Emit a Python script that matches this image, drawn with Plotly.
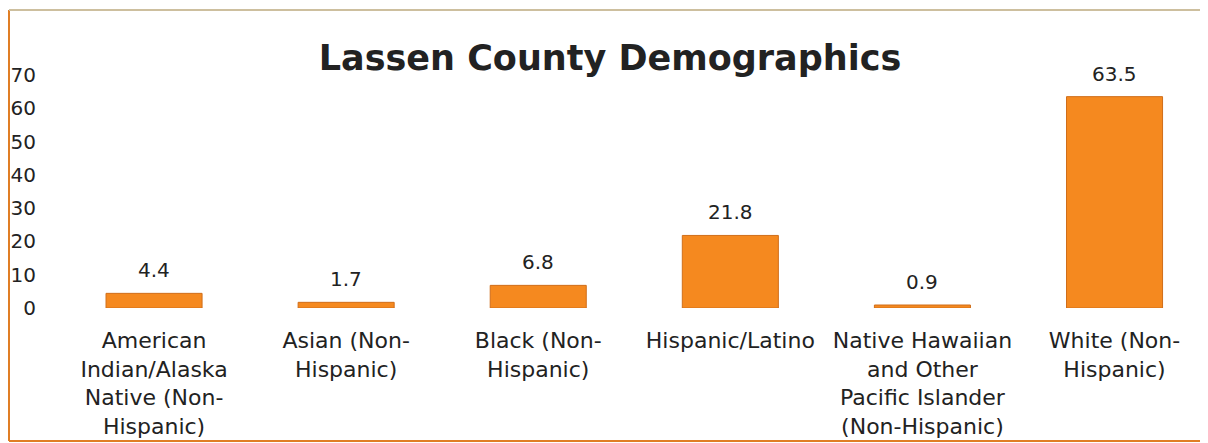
import plotly.graph_objects as go

categories = [
    "American Indian/Alaska Native (Non-Hispanic)",
    "Asian (Non-Hispanic)",
    "Black (Non-Hispanic)",
    "Hispanic/Latino",
    "Native Hawaiian and Other Pacific Islander (Non-Hispanic)",
    "White (Non-Hispanic)",
]
values = [4.4, 1.7, 6.8, 21.8, 0.9, 63.5]
tick_labels = [
    "American<br>Indian/Alaska<br>Native (Non-<br>Hispanic)",
    "Asian (Non-<br>Hispanic)",
    "Black (Non-<br>Hispanic)",
    "Hispanic/Latino",
    "Native Hawaiian<br>and Other<br>Pacific Islander<br>(Non-Hispanic)",
    "White (Non-<br>Hispanic)",
]
y_ticks = [0, 10, 20, 30, 40, 50, 60, 70]
title_text = "Lassen County Demographics"

W, H = 1208, 443
FONT = "DejaVu Sans"
# plot area in figure pixels
L, R, T, B = 50, 11, 67, 143
PW, PH = W - L - R, H - T - B


def px(fx):
    return (fx - L) / PW


def py(fy):
    return (H - B - fy) / PH


fig = go.Figure()
fig.add_trace(go.Bar(
    x=categories,
    y=values,
    width=0.5,
    marker=dict(color="#F5891F", line=dict(color="#D06E1A", width=1)),
    hoverinfo="x+y",
))

for c, v in zip(categories, values):
    fig.add_annotation(
        x=c, y=v, text=f"{v}", showarrow=False,
        yanchor="bottom", yshift=9,
        font=dict(family=FONT, size=20, color="#222222"),
    )

frame = [
    (1, 2, 1, 433, "#E07E25", 2),        # left
    (1, 2, 1195, 2, "#CDBF9E", 2),       # top
    (1195, 2, 1195, 433, "#F3DCC0", 2),  # right
    (1, 433, 1195, 433, "#E07E25", 2),   # bottom
]
shapes = [
    dict(type="line", xref="paper", yref="paper",
         x0=px(a), y0=py(b), x1=px(c), y1=py(d),
         line=dict(color=col, width=w), layer="above")
    for a, b, c, d, col, w in frame
]

fig.update_layout(
    width=W, height=H,
    paper_bgcolor="white", plot_bgcolor="white",
    margin=dict(l=L, r=R, t=T, b=B, autoexpand=False),
    showlegend=False,
    title=dict(
        text=f"<b>{title_text}</b>",
        x=602 / W, xanchor="center",
        y=1 - 50 / H, yanchor="middle",
        font=dict(family=FONT, size=35, color="#222222"),
    ),
    xaxis=dict(
        type="category",
        categoryorder="array", categoryarray=categories,
        tickvals=categories, ticktext=tick_labels,
        range=[-0.5, 5.471],
        automargin=False,
        showgrid=False, showline=False, zeroline=False,
        ticks="", ticklabelstandoff=17,
        tickangle=0,
        tickfont=dict(family=FONT, size=22, color="#222222"),
    ),
    yaxis=dict(
        range=[0, 70],
        tickvals=y_ticks,
        automargin=False,
        showgrid=False, showline=False, zeroline=False,
        ticks="", ticklabelstandoff=21,
        tickfont=dict(family=FONT, size=20, color="#222222"),
    ),
    shapes=shapes,
)

fig.write_html("out.html")
